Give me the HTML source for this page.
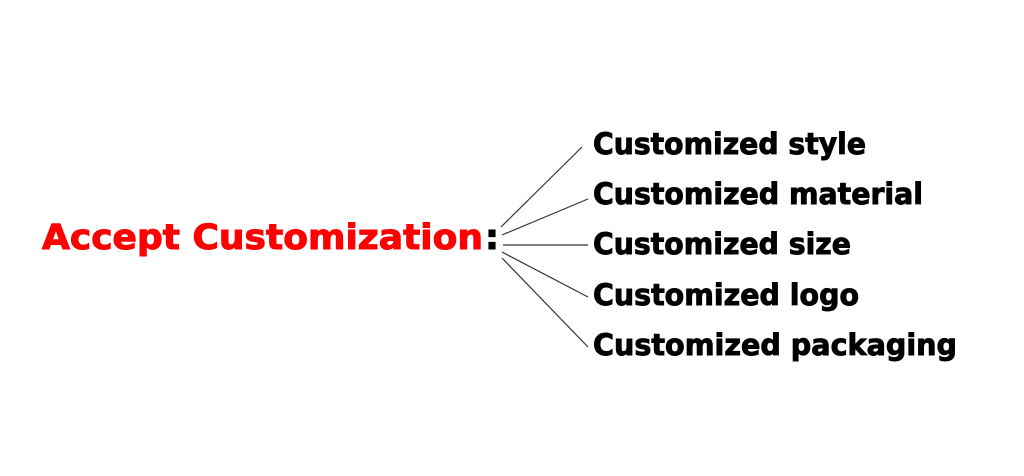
<!DOCTYPE html>
<html><head><style>body{margin:0;background:#fff}</style></head><body>
<svg width="1024" height="476" xmlns="http://www.w3.org/2000/svg" style="display:block">
<rect width="1024" height="476" fill="#fff"/>
<g font-family="DejaVu Sans, Liberation Sans, sans-serif" font-weight="bold">
<text x="42" y="249" font-size="35" fill="#f00" stroke="#f00" stroke-width="1" textLength="441" lengthAdjust="spacingAndGlyphs">Accept Customization</text>
<text x="485" y="249" font-size="35" fill="#000" stroke="#000" stroke-width="1">:</text>
<g font-size="29" fill="#000" stroke="#000" stroke-width="0.9">
<text x="593" y="154" textLength="273" lengthAdjust="spacingAndGlyphs">Customized style</text>
<text x="593" y="204" textLength="330" lengthAdjust="spacingAndGlyphs">Customized material</text>
<text x="593" y="254" textLength="258" lengthAdjust="spacingAndGlyphs">Customized size</text>
<text x="593" y="305" textLength="266" lengthAdjust="spacingAndGlyphs">Customized logo</text>
<text x="593" y="355" textLength="364" lengthAdjust="spacingAndGlyphs">Customized packaging</text>
</g></g>
<g stroke="#333" stroke-width="1.2">
<line x1="501" y1="227" x2="582" y2="147"/>
<line x1="502" y1="235" x2="588" y2="199"/>
<line x1="503" y1="245" x2="588" y2="245"/>
<line x1="502" y1="252" x2="588" y2="297"/>
<line x1="502" y1="258" x2="588" y2="347"/>
</g>
</svg>
</body></html>
